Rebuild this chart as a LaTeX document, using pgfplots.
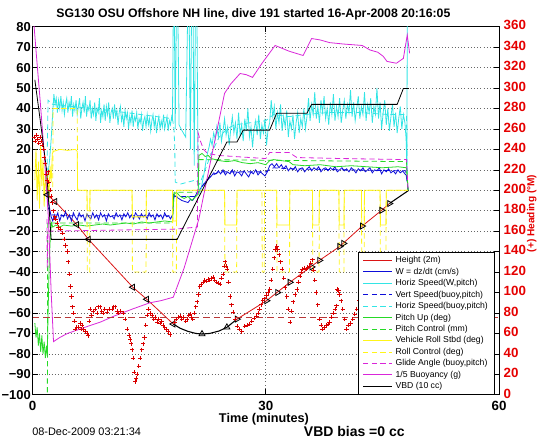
\documentclass[border=0pt]{standalone}
\usepackage{fontspec}
\setmainfont{Liberation Sans}
\usepackage{pgfplots}
\pgfplotsset{compat=1.18}
\definecolor{mred}{rgb}{0.86,0.08,0.08}
\definecolor{mblue}{rgb}{0.05,0.05,0.85}
\definecolor{mcyan}{rgb}{0.2,0.9,0.9}
\definecolor{mgreen}{rgb}{0.15,0.85,0.15}
\definecolor{myellow}{rgb}{1,0.96,0.1}
\definecolor{mmag}{rgb}{0.85,0.15,0.85}
\definecolor{mbrown}{rgb}{0.72,0.22,0.22}
\pgfplotsset{mdash/.style={dash pattern=on 4pt off 2.5pt}}
\begin{document}
\begin{tikzpicture}
\useasboundingbox (-24.4pt,-35.25pt) rectangle (385.25pt,296.2pt);
\begin{axis}[
  at={(0,0)}, anchor=south west,
  scale only axis, width=350pt, height=276.2pt,
  xmin=0, xmax=60, ymin=-100, ymax=80,
  xtick={0,30,60}, ytick={-100,-90,...,80},
  yticklabels={−100,−90,−80,−70,−60,−50,−40,−30,−20,−10,0,10,20,30,40,50,60,70,80},
  ytick pos=left,
  xmajorgrids, ymajorgrids,
  major grid style={dotted, black!60, line width=0.45pt},
  tick align=inside, major tick length=4pt,
  every tick/.style={black, line width=0.45pt},
  tick label style={font=\fontsize{10}{12}\selectfont\bfseries},
  xticklabel style={yshift=-1pt},
  yticklabel style={inner xsep=1pt, font=\fontsize{9.7}{12}\selectfont\bfseries},
  /pgf/number format/assume math mode=true,
  axis line style={line width=0.5pt},
  line width=0.6pt,
]
% Height (2m)
\addplot[mred, no marks] coordinates {(1.9,-2.2) (2.9,-5.5) (5.7,-16.8) (7.2,-24) (12.9,-47.4) (14.7,-53.3) (18.1,-65.4)};
\addplot[mred, no marks] coordinates {(26.3,-63) (30.1,-54) (33.1,-45) (36.9,-34.3) (39.5,-27.5) (42.4,-17.5) (44.9,-9.8) (45.9,-6.5)};
\addplot[black, no marks, line width=0.8pt] coordinates {(18.1,-65.4) (19,-67.5) (20,-69) (21,-70) (21.8,-70.3) (22.8,-70) (24,-68.8) (25,-67) (26.3,-63)};
\addplot[black, no marks, line width=0.8pt] coordinates {(45.9,-6.5) (48.4,0)};
% W = dz/dt
\addplot[mblue, no marks] coordinates {(1.8,0) (2.0,-4) (2.2,-9) (2.4,-13) (2.6,-15) (2.8,-12) (3.0,-14) (3.25,-11) (3.5,-15) (3.75,-12) (4.0,-13) (4.25,-10.5) (4.5,-14) (4.75,-12) (5.0,-15) (5.25,-11) (5.5,-13) (5.75,-14.5) (6.0,-11) (6.25,-13) (6.5,-12) (6.75,-15) (7.0,-11.5) (7.25,-13) (7.5,-14) (7.75,-11) (8.0,-13.5) (8.25,-12) (8.5,-14.5) (8.75,-11) (9.0,-13) (9.25,-12) (9.5,-15) (9.75,-11.5) (10,-13) (10.25,-12.5) (10.5,-14) (10.75,-11) (11,-13) (11.25,-12) (11.5,-14.5) (11.75,-11.5) (12,-13) (12.25,-11) (12.5,-13.5) (12.75,-12) (13,-14) (13.25,-11) (13.5,-12.5) (13.75,-14) (14,-11.5) (14.25,-13) (14.5,-12) (14.75,-14) (15,-11) (15.25,-13) (15.5,-12) (15.75,-14.5) (16,-11.5) (16.25,-13) (16.5,-12) (16.75,-14) (17,-11) (17.25,-13) (17.5,-12.5) (17.75,-14) (18.0,-12) (18.15,-2) (18.4,-3) (18.8,-4) (19.2,-5) (19.6,-5.5) (20.0,-6) (20.3,-4.5) (20.6,-5) (20.9,-3) (21.2,-1) (21.5,0) (21.8,2) (22.1,3) (22.4,5) (22.7,6) (23.0,7) (23.3,8.5) (23.6,8) (23.9,9.5) (24.2,8) (24.5,10) (24.8,7.5) (25.1,9) (25.4,8) (25.7,10) (26.0,7) (26.3,9) (26.6,8.5) (26.9,7) (27.2,9.5) (27.5,8) (27.8,6.5) (28.1,9) (28.4,8) (28.7,10) (29.0,7.5) (29.3,9) (29.6,8) (29.9,7) (30.2,9) (30.5,12) (30.8,13) (31.1,11.5) (31.4,13) (31.7,11) (32.0,12.5) (32.3,10.5) (32.6,12) (32.9,9.5) (33.2,11) (33.5,10) (33.8,11.5) (34.1,9) (34.4,10.5) (34.7,11) (35.0,9) (35.3,10.5) (35.6,11.5) (35.9,9.5) (36.2,11) (36.5,10) (36.8,11.5) (37.1,9) (37.4,10.5) (37.7,11) (38.0,9.5) (38.3,11) (38.6,10) (38.9,11.5) (39.2,9) (39.5,10) (39.8,11) (40.1,9.5) (40.4,10.5) (40.7,9) (41.0,11) (41.3,10) (41.6,8.5) (41.9,10.5) (42.2,9.5) (42.5,11) (42.8,9) (43.1,10) (43.4,11) (43.7,8.5) (44.0,10) (44.3,9.5) (44.6,11) (44.9,8) (45.2,10) (45.5,9) (45.8,10.5) (46.1,8.5) (46.4,9.5) (46.7,8) (47.0,10) (47.3,8.5) (47.6,9.5) (47.9,8) (48.15,7) (48.3,0)};
% Horiz Speed (W,pitch)
\addplot[mcyan, no marks] coordinates {(1.8,3) (2.0,8) (2.2,15) (2.4,25) (2.6,38) (2.75,47) (2.9,42) (3.05,45) (3.2,38) (3.35,44) (3.5,40) (3.65,46) (3.8,39) (3.95,43) (4.1,37) (4.25,42) (4.4,45) (4.55,38) (4.7,43) (4.85,40) (5.0,46) (5.15,36) (5.3,42) (5.45,39) (5.6,44) (5.75,37) (5.9,41) (6.05,45) (6.2,35) (6.35,40) (6.5,43) (6.65,38) (6.8,46) (6.95,36) (7.1,41) (7.25,39) (7.4,44) (7.55,35) (7.7,40) (7.85,37) (8.0,43) (8.15,34) (8.3,40) (8.45,38) (8.6,45) (8.75,33) (8.9,39) (9.05,36) (9.2,42) (9.35,34) (9.5,41) (9.65,37) (9.8,43) (9.95,33) (10.1,38) (10.25,40) (10.4,35) (10.55,42) (10.7,36) (10.85,39) (11.0,32) (11.15,38) (11.3,41) (11.45,34) (11.6,37) (11.75,31) (11.9,39) (12.05,35) (12.2,38) (12.35,30) (12.5,36) (12.65,33) (12.8,39) (12.95,31) (13.1,36) (13.25,34) (13.4,38) (13.55,30) (13.7,35) (13.85,33) (14.0,37) (14.15,29) (14.3,34) (14.45,36) (14.6,31) (14.75,37) (14.9,32) (15.05,35) (15.2,29) (15.35,34) (15.5,37) (15.65,31) (15.8,35) (15.95,28) (16.1,33) (16.25,36) (16.4,30) (16.55,34) (16.7,31) (16.85,37) (17.0,30) (17.15,33) (17.3,36) (17.45,29) (17.6,34) (17.75,32) (17.9,36) (18.0,34) (18.1,85) (18.25,85) (18.35,30) (18.5,85) (18.7,85) (18.85,32) (19.1,30) (19.4,28) (19.7,26) (19.95,85) (20.15,85) (20.3,20) (20.45,85) (20.65,85) (20.8,12) (20.95,85) (21.15,85) (21.3,3) (21.5,-1) (21.7,1) (21.9,5) (22.1,9) (22.3,14) (22.5,18) (22.7,21) (22.9,25) (23.1,22) (23.3,28) (23.5,25) (23.7,31) (23.9,26) (24.1,33) (24.3,24) (24.5,29) (24.7,35) (24.9,27) (25.1,31) (25.3,22) (25.5,30) (25.7,36) (25.9,28) (26.1,33) (26.3,25) (26.5,38) (26.7,27) (26.9,32) (27.1,24) (27.3,35) (27.5,29) (27.7,40) (27.9,26) (28.1,31) (28.3,21) (28.5,30) (28.7,34) (28.9,27) (29.1,37) (29.3,25) (29.5,32) (29.7,28) (29.9,35) (30.1,22) (30.3,30) (30.5,33) (30.7,44) (30.9,36) (31.1,41) (31.3,30) (31.5,38) (31.7,33) (31.9,42) (32.1,29) (32.3,36) (32.5,31) (32.7,39) (32.9,26) (33.1,34) (33.3,30) (33.5,37) (33.7,25) (33.9,33) (34.1,38) (34.3,28) (34.5,35) (34.7,31) (34.9,40) (35.1,30) (35.3,36) (35.5,45) (35.7,34) (35.9,42) (36.1,37) (36.3,48) (36.5,35) (36.7,41) (36.9,33) (37.1,44) (37.3,38) (37.5,46) (37.7,35) (37.9,40) (38.1,32) (38.3,43) (38.5,37) (38.7,47) (38.9,34) (39.1,41) (39.3,36) (39.5,45) (39.7,33) (39.9,39) (40.1,44) (40.3,35) (40.5,42) (40.7,38) (40.9,49) (41.1,36) (41.3,43) (41.5,34) (41.7,40) (41.9,46) (42.1,35) (42.3,41) (42.5,37) (42.7,48) (42.9,34) (43.1,42) (43.3,38) (43.5,45) (43.7,33) (43.9,41) (44.1,37) (44.3,50) (44.5,35) (44.7,43) (44.9,30) (45.1,38) (45.3,44) (45.5,32) (45.7,40) (45.9,29) (46.1,36) (46.3,42) (46.5,31) (46.7,38) (46.9,28) (47.1,35) (47.3,41) (47.5,30) (47.7,37) (47.9,33) (48.05,25) (48.15,10) (48.2,85) (48.4,85)};
% Vert Speed (buoy,pitch)
\addplot[mblue, mdash, no marks] coordinates {(1.9,0) (2.0,-8) (2.3,-12) (5,-12.5) (10,-12.5) (15,-12.5) (18,-12.5) (18.2,-3) (21,-3) (21.3,-1) (22,3) (23,7) (24,9) (26,9) (30,9) (31,11) (33,10.5) (40,10) (48,9.5) (48.3,0)};
% Horiz Speed (buoy,pitch)
\addplot[mcyan, mdash, no marks] coordinates {(1.85,0) (1.9,20) (2.0,44) (2.6,42) (5,41) (10,39) (14,37) (18,35) (18.2,30) (18.3,20) (18.35,4) (19,3) (20,4) (21,5) (21.5,3) (22,8) (23,18) (24,26) (25,30) (26,32) (28,33) (30,34) (31,37) (33,36) (35,37) (38,38) (42,38) (46,37) (48.1,37) (48.2,5)};
% Pitch Up
\addplot[mgreen, no marks] coordinates {(0.3,-65) (0.45,-72) (0.6,-67) (0.75,-76) (0.9,-70) (1.05,-79) (1.2,-71) (1.35,-80) (1.5,-74) (1.65,-82) (1.8,-76) (1.9,-81) (2.0,-60) (2.15,-35) (2.3,-22) (2.45,-16) (2.6,-18) (3.0,-17) (3.5,-18) (4,-17) (5,-17.5) (6,-17) (7,-17.5) (8,-17) (9,-16.5) (10,-17) (11,-16.5) (12,-16) (13,-16.5) (14,-15.5) (15,-16) (16,-15.5) (17,-15) (18,-15.5) (18.2,-2) (18.5,-1) (19,-3) (19.5,-4) (20,-3) (20.5,-5) (21,-3) (21.3,-2) (21.4,17) (21.8,18) (22.2,16.5) (22.6,17) (23,15.5) (23.5,15) (24,14.5) (25,14) (26,14.5) (27,13.5) (28,13) (29,13.5) (30,12.5) (30.5,14.5) (31,15) (32,14.5) (33,14) (33.5,12.5) (35,12) (37,12.5) (39,11.5) (41,12) (43,11.5) (45,11) (47,11.5) (48.1,11) (48.3,0)};
% Pitch Control
\addplot[mgreen, mdash, no marks] coordinates {(1.9,-120) (1.95,-16) (18,-16) (18.2,-1) (21.3,-1) (21.4,15) (48.1,14) (48.3,0)};
% Vehicle Roll
\addplot[myellow, no marks] coordinates {(0.3,5) (0.45,20) (0.6,-5) (0.75,14) (0.9,-9) (1.05,22) (1.2,2) (1.35,15) (1.5,-8) (1.65,10) (1.8,-3) (1.95,8) (2.1,-6) (2.25,12) (2.4,4) (2.55,18) (2.7,19) (3.5,20) (4.5,19.5) (5.5,20) (5.75,19) (5.8,0) (7.0,0) (7.05,-10) (7.35,-10) (7.4,0) (12.8,0) (12.85,-13) (14.6,-13) (14.65,0) (18.0,0) (18.05,-15) (18.5,-15) (18.55,0) (24.7,0) (24.75,-17) (26.25,-17) (26.3,0) (31.4,0) (31.45,-17) (33.05,-17) (33.1,0) (36.0,0) (36.05,-17) (36.85,-17) (36.9,0) (39.4,0) (39.45,-17) (40.05,-17) (40.1,0) (42.3,0) (42.35,-17) (42.65,-17) (42.7,0) (44.7,0) (44.75,-17) (45.45,-17) (45.5,0) (48.3,0)};
% Roll Control
\addplot[myellow, mdash, no marks] coordinates {(1.9,0) (2.6,0) (2.65,40) (5.75,40) (5.8,0) (7.0,0) (7.05,-40) (7.35,-40) (7.4,0) (12.8,0) (12.85,-40) (14.6,-40) (14.65,0) (18.0,0) (18.05,-40) (18.5,-40) (18.55,0) (24.7,0) (24.75,-40) (26.25,-40) (26.3,0) (29.5,0) (29.55,-40) (29.8,-40) (29.85,0) (31.4,0) (31.45,-40) (33.05,-40) (33.1,0) (36.0,0) (36.05,-40) (36.85,-40) (36.9,0) (39.4,0) (39.45,-40) (40.05,-40) (40.1,0) (42.3,0) (42.35,-40) (42.65,-40) (42.7,0) (44.7,0) (44.75,-40) (45.45,-40) (45.5,0) (48.3,0)};
% Glide Angle
\addplot[mmag, mdash, no marks] coordinates {(1.85,-14) (1.9,-38) (1.95,-20) (18.3,-19) (21.2,-18) (21.3,28) (21.6,24) (22,20) (22.5,18) (24,17) (26,16.5) (28,16) (30,15.5) (30.5,18.5) (33,18.5) (34,16) (40,15.5) (48.1,15) (48.3,0)};
% 1/5 Buoyancy
\addplot[mmag, no marks] coordinates {(0.1,85) (0.5,66) (1.0,43) (1.5,18) (2.05,-14) (2.4,-50) (2.7,-74) (3.5,-72) (4.5,-70) (6,-68) (7.5,-66) (8.7,-64.5) (10.5,-61.5) (12.9,-58) (15.1,-55) (16.5,-54) (18.1,-52.3) (19.5,-38) (21.4,-14) (23,16) (24.7,47.4) (25.5,52) (26.7,57.1) (27.5,56.5) (28.3,55.2) (29.5,62) (31.2,70.8) (33,68) (34.8,65.9) (35.9,74.2) (37,73.5) (38.2,72.2) (40,71.5) (42.4,70.8) (43.4,68.6) (44.4,67.5) (45.1,65.5) (45.6,63) (46.8,62.1) (47.7,64.5) (48.2,75.9) (48.5,67)};
% VBD
\addplot[black, no marks] coordinates {(0.3,54) (1.0,34) (1.8,10) (2.4,-24) (18.6,-24) (25,23.6) (26.3,23.6) (27.1,29.4) (30.5,29.4) (31.4,37.7) (35.3,37.7) (35.9,42) (46.9,42) (47.7,49.8) (48.4,49.8)};
% Height markers
\addplot[only marks, mark=triangle, mark size=2.6pt, black, mark options={rotate=90, line width=0.6pt}] coordinates {(1.9,-2.2) (2.9,-5.5) (5.7,-16.8) (7.2,-24) (12.9,-47.4) (14.7,-53.3) (18.1,-65.4)};
\addplot[only marks, mark=triangle, mark size=2.6pt, black, mark options={line width=0.6pt}] coordinates {(21.8,-70.3) (25,-67)};
\addplot[only marks, mark=triangle, mark size=2.6pt, black, mark options={rotate=-90, line width=0.6pt}] coordinates {(26.3,-63) (30.1,-54) (31.5,-50) (33.1,-45) (35.9,-37.5) (36.9,-34.3) (39.5,-27.5) (40,-26) (42.4,-17.5) (44.9,-9.8) (45.9,-6.5)};
\end{axis}
\begin{axis}[
  at={(0,0)}, anchor=south west,
  scale only axis, width=350pt, height=276.2pt,
  xmin=0, xmax=60, ymin=0, ymax=360,
  axis x line=none, axis y line*=right,
  ytick={0,20,...,360},
  tick align=inside, major tick length=4pt,
  every tick/.style={black, line width=0.45pt},
  yticklabel style={font=\fontsize{10}{12}\selectfont\bfseries, text=red!90!black, yshift=1pt},
  /pgf/number format/assume math mode=true,
  axis line style={line width=0.5pt},
  legend cell align=left,
  legend style={at={(0.991,0.001)}, anchor=south east, draw=black, fill=white,
    font=\fontsize{6.5}{7}\selectfont, inner xsep=3pt, inner ysep=1.5pt,
    nodes={text height=5pt, text depth=1.4pt, inner ysep=1.1pt, inner xsep=2pt}},
  legend image code/.code={\draw[#1, line width=0.7pt] (0pt,0pt) -- (22pt,0pt);},
]
\addlegendimage{mred}\addlegendentry{Height (2m)}
\addlegendimage{mblue}\addlegendentry{W = dz/dt (cm/s)}
\addlegendimage{mcyan}\addlegendentry{Horiz Speed(W,pitch)}
\addlegendimage{mblue, mdash}\addlegendentry{Vert Speed(buoy,pitch)}
\addlegendimage{mcyan, mdash}\addlegendentry{Horiz Speed(buoy,pitch)}
\addlegendimage{mgreen}\addlegendentry{Pitch Up (deg)}
\addlegendimage{mgreen, mdash}\addlegendentry{Pitch Control (mm)}
\addlegendimage{myellow}\addlegendentry{Vehicle Roll Stbd (deg)}
\addlegendimage{myellow, mdash}\addlegendentry{Roll Control (deg)}
\addlegendimage{mmag, mdash}\addlegendentry{Glide Angle (buoy,pitch)}
\addlegendimage{mmag}\addlegendentry{1/5 Buoyancy (g)}
\addlegendimage{black}\addlegendentry{VBD (10 cc)}
% target heading
\addplot[mbrown, dash pattern=on 5pt off 3pt, line width=0.6pt, forget plot] coordinates {(0,76) (60,76)};
% heading
\addplot[only marks, mark=+, mark size=1.6pt, red!85!black, mark options={line width=0.55pt}, forget plot] coordinates {
(0.2,252) (0.35,248) (0.5,254) (0.65,250) (0.8,246) (0.95,252) (1.1,248) (1.25,244) (1.4,240) (1.5,232) (1.65,226) (1.8,216) (1.9,210) (2.0,218) (2.1,208) (2.25,200) (2.4,194) (2.55,188) (2.7,180) (2.85,174) (2.95,172) (3.15,168) (3.33,164) (3.6,162) (3.85,158) (4.05,152) (4.25,146) (4.49,140) (4.6,130) (4.75,118) (4.87,106) (5.0,96) (5.15,86) (5.26,80) (5.4,72) (5.51,64) (5.7,66) (5.9,66) (6.1,70) (6.25,64) (6.41,68) (6.6,64) (6.79,62) (7.0,60) (7.18,58) (7.3,72) (7.44,84) (7.6,78) (7.8,82) (8.08,84) (8.3,80) (8.5,86) (8.72,86) (8.9,82) (9.1,80) (9.3,84) (9.62,81) (9.9,84) (10.26,84) (10.45,86) (10.64,86) (10.85,82) (11.03,80) (11.3,82) (11.67,80) (11.9,74) (12.18,64) (12.4,58) (12.56,54) (12.7,50) (12.82,44) (12.95,36) (13.08,22) (13.21,13) (13.35,16) (13.46,20) (13.65,28) (13.85,36) (14.05,44) (14.23,50) (14.4,56) (14.55,68) (14.74,78) (14.9,84) (15.13,80) (15.4,78) (15.6,74) (15.8,76) (16.0,71) (16.2,74) (16.4,70) (16.6,72) (16.8,68) (17.0,66) (17.2,64) (17.45,62) (17.7,59)
(18.3,71) (18.5,74) (18.75,76) (19.0,77) (19.2,74) (19.45,76) (19.7,72) (19.9,74) (20.1,78) (20.3,79) (20.45,76) (20.6,74) (20.8,80) (21.0,86) (21.2,91) (21.35,98) (21.5,106) (21.7,108) (21.95,110) (22.15,112) (22.4,111) (22.6,113) (22.8,112) (23.0,114) (23.2,115) (23.45,112) (23.7,110) (23.9,109) (24.1,108) (24.3,114) (24.5,118) (24.65,126) (24.75,130) (24.9,126) (25.0,123) (25.2,110) (25.4,96) (25.6,88) (25.8,81) (26.05,74) (26.3,67) (26.6,64) (26.9,62)
(27.3,67) (27.6,68) (27.9,69) (28.2,72) (28.5,75) (28.8,77) (29.0,80) (29.2,84) (29.4,88) (29.6,92) (29.85,94) (30.1,97) (30.3,100) (30.5,103) (30.7,112) (30.9,123) (31.1,134) (31.25,142) (31.4,145) (31.55,142) (31.7,137) (31.9,130) (32.1,123) (32.3,114) (32.5,105) (32.7,96) (32.9,84) (33.1,71) (33.3,82) (33.5,91) (33.75,98) (34.0,103) (34.2,110) (34.4,116) (34.55,120) (34.7,123) (34.95,124) (35.2,123) (35.4,125) (35.6,126) (35.8,129) (36.0,132) (36.15,122) (36.3,112) (36.5,100) (36.7,88) (36.9,74) (37.1,68) (37.3,64) (37.55,66) (37.8,68) (38.0,69) (38.2,71) (38.45,76) (38.7,80) (38.9,84) (39.1,87) (39.2,103) (39.35,102) (39.5,98) (39.7,92) (39.9,84) (40.15,74) (40.4,64) (40.65,68) (40.9,70) (41.2,74) (41.45,79) (41.7,84) (42.0,92) (42.3,104) (42.9,94) (43.9,113) (45.3,94) (46.5,108) (47.8,104)};
\end{axis}
\node[font=\fontsize{9.2}{11}\selectfont\bfseries] at (165.75pt,285.75pt) {SG130 OSU Offshore NH line, dive 191 started 16-Apr-2008 20:16:05};
\node[font=\fontsize{9.5}{11}\selectfont\bfseries] at (173.6pt,-18pt) {Time (minutes)};
\node[anchor=west, inner sep=0pt, font=\fontsize{8.2}{10}\selectfont] at (-0.4pt,-27.4pt) {08-Dec-2009 03:21:34};
\node[anchor=east, inner sep=0pt, font=\fontsize{10.5}{12}\selectfont\bfseries] at (279.4pt,-27.4pt) {VBD bias =0 cc};
\node[rotate=90, text=red!90!black, font=\fontsize{7.6}{9}\selectfont\bfseries] at (374.6pt,136.1pt) {(+) Heading (°M)};
\end{tikzpicture}
\end{document}
